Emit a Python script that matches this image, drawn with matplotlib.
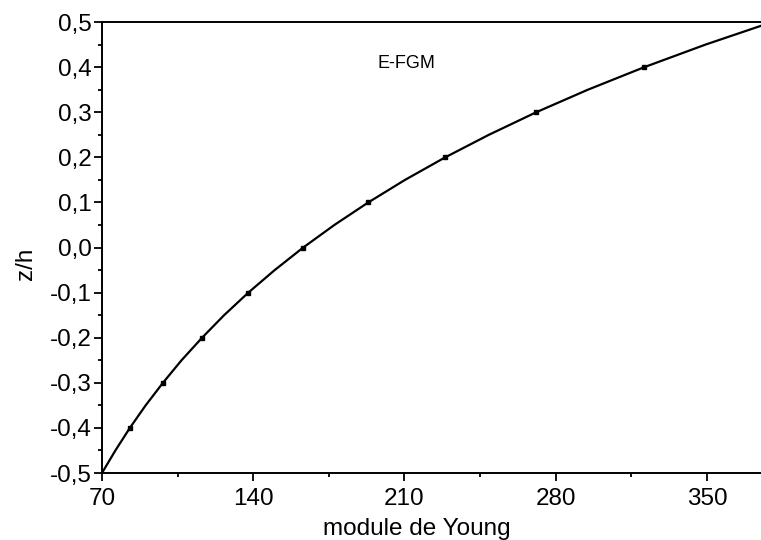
"""E-FGM Young's modulus profile through the thickness."""

import matplotlib

matplotlib.use("Agg")
import matplotlib.pyplot as plt
from matplotlib.ticker import FuncFormatter, MultipleLocator

plt.rcParams["font.family"] = ["Liberation Sans", "DejaVu Sans"]

# curve (z/h vs E)
curve_z = [-0.5, -0.45, -0.4, -0.35, -0.3, -0.25, -0.2, -0.15, -0.1, -0.05, 0.0,
           0.05, 0.1, 0.15, 0.2, 0.25, 0.3, 0.35, 0.4, 0.45, 0.5]
curve_e = [70.0, 76.2, 82.9, 90.2, 98.2, 106.8, 116.3, 126.5, 137.7, 149.9, 163.1,
           177.5, 193.2, 210.2, 228.8, 249.0, 270.9, 294.8, 320.9, 349.2, 380.0]

# square markers
marker_z = [-0.4, -0.3, -0.2, -0.1, 0.0, 0.1, 0.2, 0.3, 0.4]
marker_e = [82.9, 98.2, 116.3, 137.7, 163.1, 193.2, 228.8, 270.9, 320.9]

x_ticks = [70, 140, 210, 280, 350]


def comma(v, _pos):
    s = f"{v:.1f}".replace(".", ",")
    return "0,0" if s == "-0,0" else s


fig = plt.figure(figsize=(7.61, 5.40), dpi=100)
ax = fig.add_axes([0.134, 0.124, 0.866, 0.835])

ax.plot(curve_e, curve_z, color="black", lw=1.6)
ax.plot(marker_e, marker_z, ls="none", marker="s", ms=3.2, color="black")

ax.set_xlim(70, 375)
ax.set_ylim(-0.5, 0.5)
ax.set_xticks(x_ticks)
ax.xaxis.set_minor_locator(MultipleLocator(35))
ax.yaxis.set_major_locator(MultipleLocator(0.1))
ax.yaxis.set_minor_locator(MultipleLocator(0.05))
ax.yaxis.set_major_formatter(FuncFormatter(comma))

ax.spines["right"].set_visible(False)
for sp in ax.spines.values():
    sp.set_linewidth(1.4)
ax.tick_params(which="major", direction="out", length=5.5, width=1.3, labelsize=17.5)
ax.tick_params(which="minor", direction="out", length=3, width=1.3)
ax.tick_params(axis="x", pad=5.5)
ax.tick_params(axis="y", pad=2)

ax.set_xlabel("module de Young", fontsize=17.5, va="center")
ax.xaxis.set_label_coords((417 - 102) / 659, -(529 - 473) / 451)
ax.set_ylabel("z/h", fontsize=17.5, va="center")
ax.yaxis.set_label_coords(-(102 - 26) / 659, (473 - 264) / 451)
ax.text(211, 0.409, "E-FGM", fontsize=13, ha="center", va="center")

fig.savefig("out.png", dpi=100)
